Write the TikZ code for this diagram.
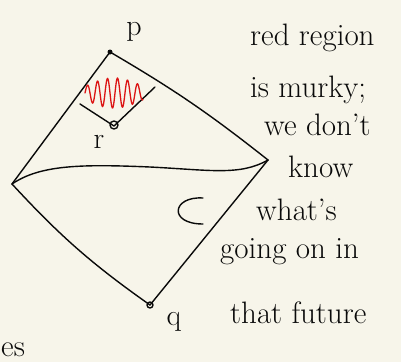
\documentclass[tikz,border=0pt]{standalone}
\usepackage{tikz}
\usetikzlibrary{calc}
\usepackage{xcolor}
\definecolor{paper}{RGB}{247,245,234}
\definecolor{ink}{RGB}{10,10,10}
\definecolor{softred}{RGB}{220,20,20}

\begin{document}
\begin{tikzpicture}[x=1pt, y=-1pt,
    pen/.style={ink, line width=1.4pt, line cap=round, line join=round},
    scrawl/.style={ink, font=\fontsize{31}{33}\selectfont, anchor=base west, inner sep=0pt},
    tag/.style={ink, font=\fontsize{30}{32}\selectfont, inner sep=0pt}]
  \fill[paper] (0,0) rectangle (401,362);
  \clip (0,0) rectangle (401,362);
  \useasboundingbox (0,0) rectangle (401,362);

  % corners of the diamond
  \coordinate (p) at (110,52);
  \coordinate (L) at (12,184);
  \coordinate (R) at (268,160);
  \coordinate (q) at (150,305);
  % the small box under p
  \coordinate (a) at (80,104);
  \coordinate (r) at (114,126);
  \coordinate (b) at (155,87);

  \draw[pen] (p) -- (L);
  \draw[pen] (p) to[bend left=4] (R);
  \draw[pen] (R) -- (q);
  \draw[pen] (L) to[bend right=6] (q);
  \draw[pen] (L) .. controls (40,165) and (80,164) .. (150,167)
                 .. controls (210,170) and (240,176) .. (R);
  \draw[pen] (203,198) .. controls (172,196) and (168,224) .. (203,224);

  \draw[pen] (a) -- (r) -- (b);
  \fill[ink] (p) circle (2.5);
  \draw[pen] ($(r)+(0,-1)$) circle (4);
  \draw[pen] (q) circle (3);

  % murky region
  \draw[softred, line width=1.3pt, line cap=round, domain=0:58, samples=160]
    plot ({85+\x}, {93 - 15*(0.45+0.55*sin(180*\x/58))*sin(36*\x)});

  \node[tag] (lp) at (134,32) {p};
  \node[tag] (lr) at (99,142) {r};
  \node[tag] (lq) at (174,322) {q};

  \node[scrawl] (t1) at (250,45) {red region};
  \node[scrawl] (t2) at (250,97) {is murky;};
  \node[scrawl] (t3) at (264,135) {we don't};
  \node[scrawl] (t4) at (288,177) {know};
  \node[scrawl] (t5) at (256,220) {what's};
  \node[scrawl] (t6) at (220,258) {going on in};
  \node[scrawl] (t7) at (230,323) {that future};
  \node[scrawl] (t8) at (1,356) {es};
\end{tikzpicture}
\end{document}
